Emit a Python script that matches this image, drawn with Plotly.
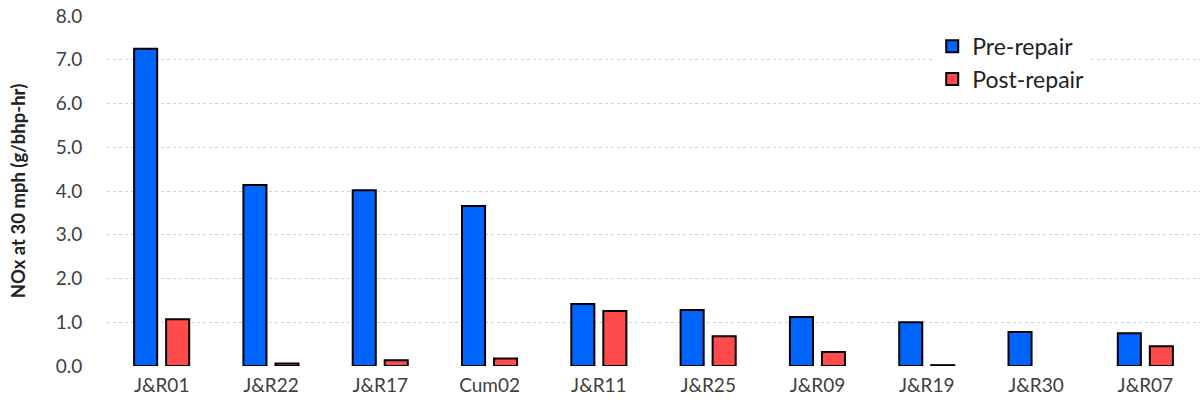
import plotly.graph_objects as go

categories = ["J&R01", "J&R22", "J&R17", "Cum02", "J&R11", "J&R25", "J&R09", "J&R19", "J&R30", "J&R07"]
pre_repair = [7.25, 4.14, 4.02, 3.66, 1.42, 1.28, 1.12, 1.00, 0.78, 0.75]
post_repair = [1.07, 0.06, 0.13, 0.17, 1.26, 0.68, 0.32, 0.02, None, 0.45]
y_ticks = [0, 1, 2, 3, 4, 5, 6, 7, 8]

fig = go.Figure()
fig.add_trace(go.Bar(x=categories, y=pre_repair, name="Pre-repair",
                     marker=dict(color="#0064FF", line=dict(color="black", width=2))))
fig.add_trace(go.Bar(x=categories, y=post_repair, name="Post-repair",
                     marker=dict(color="#FF4B4B", line=dict(color="black", width=2))))

fig.update_layout(
    width=1203, height=408,
    margin=dict(l=107, r=3, t=16, b=42, autoexpand=False),
    paper_bgcolor="white", plot_bgcolor="white",
    barmode="group", bargap=0.414, bargroupgap=0.28,
    font=dict(family="Lato, Open Sans, sans-serif", color="#404040", size=16),
    legend=dict(x=0.755, y=0.975, xanchor="left", yanchor="top",
                bgcolor="white", font=dict(size=23, color="#222"),
                itemwidth=30, tracegroupgap=10),
    showlegend=True,
)
fig.update_yaxes(range=[0, 8], tickvals=y_ticks, tickformat=".1f", automargin=False,
                 showgrid=True, gridcolor="#cfcfcf", griddash="dot", gridwidth=1,
                 zeroline=False, showline=False, ticks="outside", ticklen=20, tickcolor="white",
                 title=dict(text="<b>NOx at 30 mph (g/bhp-hr)</b>", font=dict(size=18.5, color="#222"), standoff=25),
                 tickfont=dict(size=19))
fig.update_xaxes(showline=False, ticks="outside", ticklen=2, tickcolor="white", automargin=False,
                 tickfont=dict(size=19))

fig.write_html("out.html", config={"displayModeBar": False},
               post_script="document.body.style.margin='0';document.body.style.padding='0';")
